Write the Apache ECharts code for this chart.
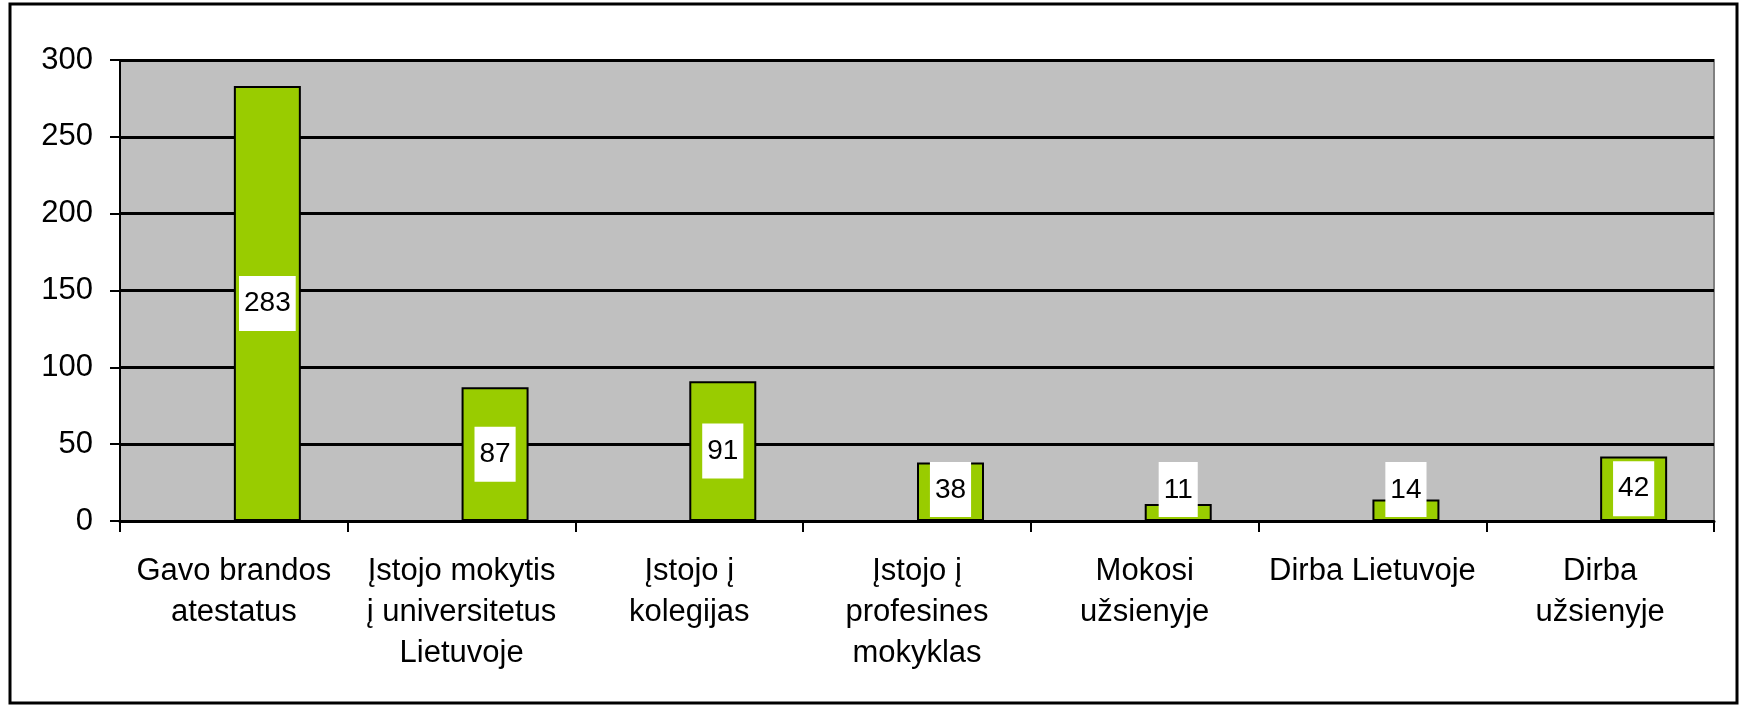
<!DOCTYPE html>
<html>
<head>
<meta charset="utf-8">
<script src="https://cdn.jsdelivr.net/npm/echarts@6/dist/echarts.min.js"></script>
<style>
html,body{margin:0;padding:0;background:#fff;}
#chart{width:1739px;height:706px;}
</style>
</head>
<body>
<div id="chart"></div>
<script>
var categories = ['Gavo brandos\natestatus', 'Įstojo mokytis\nį universitetus\nLietuvoje', 'Įstojo į\nkolegijas',
    'Įstojo į\nprofesines\nmokyklas', 'Mokosi\nužsienyje', 'Dirba Lietuvoje', 'Dirba\nužsienyje'];
var values = [283, 87, 91, 38, 11, 14, 42];
var yTicks = [0, 50, 100, 150, 200, 250, 300];

var font = '"Liberation Sans", Arial, sans-serif';
var myChart = echarts.init(document.getElementById('chart'));

// labels of short bars sit on the axis, like in excel
var barData = [];
for (var i = 0; i < values.length; i++) {
    if (values[i] < 41) {
        barData.push({value: values[i], label: {position: 'insideBottom', distance: 4}});
    } else {
        barData.push(values[i]);
    }
}
var emptyData = [];
for (var i = 0; i < values.length; i++) emptyData.push('-');

var option = {
    backgroundColor: '#fff',
    animation: false,
    graphic: [{
        type: 'rect',
        shape: {x: 10, y: 4, width: 1727, height: 699},
        style: {fill: 'none', stroke: '#000', lineWidth: 3},
        z: 100
    }],
    grid: {
        left: 120, right: 25, top: 60, bottom: 185,
        show: true,
        backgroundColor: '#c0c0c0',
        borderColor: '#808080',
        borderWidth: 2
    },
    xAxis: {
        type: 'category',
        data: categories,
        axisLine: {lineStyle: {color: '#000', width: 3}},
        axisTick: {show: true, alignWithLabel: false, length: 11, lineStyle: {color: '#000', width: 2}},
        axisLabel: {
            interval: 0, margin: 30, color: '#000',
            fontFamily: font, fontSize: 31, lineHeight: 41
        }
    },
    yAxis: {
        type: 'value',
        min: yTicks[0], max: yTicks[yTicks.length - 1], interval: 50,
        axisLine: {show: true, lineStyle: {color: '#000', width: 2}},
        axisTick: {show: true, length: 10, lineStyle: {color: '#000', width: 2}},
        axisLabel: {margin: 27, color: '#000', fontFamily: font, fontSize: 31},
        splitLine: {show: true, lineStyle: {color: '#000', width: 3}}
    },
    series: [
        {
            type: 'bar',
            data: emptyData,
            barWidth: 67,
            barGap: '0%'
        },
        {
            type: 'bar',
            data: barData,
            barWidth: 67,
            barGap: '0%',
            itemStyle: {color: '#99cc00', borderColor: '#000', borderWidth: 2},
            label: {
                show: true,
                position: 'inside',
                color: '#000',
                fontFamily: font,
                fontSize: 28,
                backgroundColor: '#fff',
                padding: [14, 5, 13, 5]
            }
        }
    ]
};
myChart.setOption(option);
</script>
</body>
</html>
